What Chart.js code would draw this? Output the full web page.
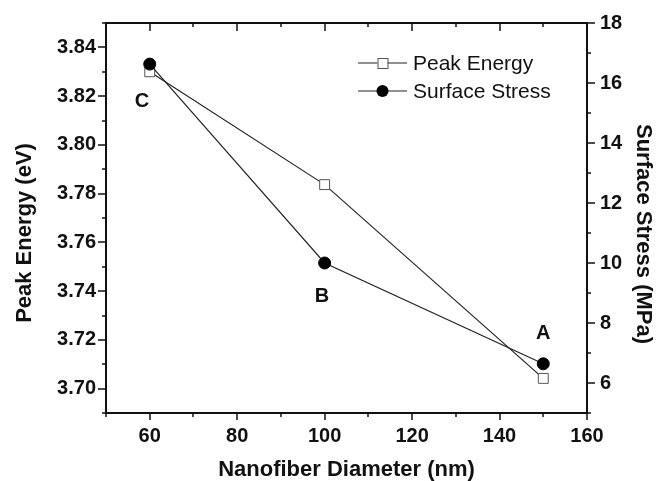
<!DOCTYPE html>
<html><head><meta charset="utf-8">
<script src="https://cdn.jsdelivr.net/npm/chart.js@4.4.0/dist/chart.umd.min.js"></script>
<style>html,body{margin:0;padding:0;background:#fff;}</style>
</head><body>
<canvas id="c" width="657" height="481" style="width:657px;height:481px;display:block"></canvas>
<script>
// ---- data ----
const diameters = [60, 100, 150];
const peakEnergy = [3.830, 3.7837, 3.7042];
const surfaceStress = [16.63, 10.0, 6.64];
const pointLabels = ['C', 'B', 'A'];
const pointLabelX = [58.2, 99.4, 150];
const pointLabelY = [3.818, 3.738, 3.7225];
const xMajorTicks = [60, 80, 100, 120, 140, 160];
const leftMajorTicks = [3.70, 3.72, 3.74, 3.76, 3.78, 3.80, 3.82, 3.84];
const rightMajorTicks = [6, 8, 10, 12, 14, 16, 18];
const seriesNames = ['Peak Energy', 'Surface Stress'];
const axisTitles = ['Nanofiber Diameter (nm)', 'Peak Energy (eV)', 'Surface Stress (MPa)'];

const FONT = "'Liberation Sans', Arial, sans-serif";
const isMajor = (arr, v) => arr.some(m => Math.abs(m - v) < 1e-6);

const decorPlugin = {
  id: 'decor',
  afterDraw(chart) {
    const ctx = chart.ctx, a = chart.chartArea;
    const sx = chart.scales.x, sy = chart.scales.y, sy1 = chart.scales.y1;
    ctx.save();
    ctx.strokeStyle = '#111';
    // top frame
    ctx.lineWidth = 2;
    ctx.beginPath(); ctx.moveTo(a.left - 1, a.top); ctx.lineTo(a.right + 1, a.top); ctx.stroke();
    ctx.lineWidth = 1.5;
    const seg = (x0, y0, x1, y1) => { ctx.beginPath(); ctx.moveTo(x0, y0); ctx.lineTo(x1, y1); ctx.stroke(); };
    sx.ticks.forEach(t => {
      const px = Math.round(sx.getPixelForValue(t.value));
      const m = isMajor(xMajorTicks, t.value);
      seg(px, a.bottom, px, a.bottom + (m ? 7 : 4));
      seg(px, a.top, px, a.top + (m ? 8 : 4));
    });
    sy.ticks.forEach(t => {
      const py = Math.round(sy.getPixelForValue(t.value));
      const m = isMajor(leftMajorTicks, t.value);
      seg(a.left - (m ? 8 : 4), py, a.left, py);
    });
    sy1.ticks.forEach(t => {
      const py = Math.round(sy1.getPixelForValue(t.value));
      const m = isMajor(rightMajorTicks, t.value);
      seg(a.right, py, a.right + (m ? 8 : 4), py);
    });
    // point labels
    ctx.fillStyle = '#111';
    ctx.font = 'bold 20px ' + FONT;
    ctx.textAlign = 'center'; ctx.textBaseline = 'middle';
    pointLabels.forEach((s, i) => {
      ctx.fillText(s, sx.getPixelForValue(pointLabelX[i]), sy.getPixelForValue(pointLabelY[i]));
    });
    // y axis titles
    ctx.font = 'bold 22px ' + FONT;
    ctx.save();
    ctx.translate(25, (a.top + a.bottom) / 2 + 15);
    ctx.rotate(-Math.PI / 2);
    ctx.fillText(axisTitles[1], 0, 0);
    ctx.restore();
    ctx.save();
    ctx.translate(643, (a.top + a.bottom) / 2 + 16);
    ctx.rotate(Math.PI / 2);
    ctx.fillText(axisTitles[2], 0, 0);
    ctx.restore();
    // legend
    const ds = chart.data.datasets;
    const lx0 = a.left + 252, lx1 = a.left + 301, lcx = (lx0 + lx1) / 2;
    const rows = [a.top + 40, a.top + 68];
    ctx.font = '21px ' + FONT;
    ctx.textAlign = 'left';
    ds.forEach((d, i) => {
      const y = rows[i];
      ctx.strokeStyle = '#222'; ctx.lineWidth = 1.2;
      seg(lx0, y, lx1, y);
      if (d.pointStyle === 'rect') {
        ctx.fillStyle = '#fff'; ctx.strokeStyle = '#555'; ctx.lineWidth = 1;
        ctx.fillRect(lcx - 5, y - 5, 10, 10);
        ctx.strokeRect(lcx - 5 + 0.5, y - 5 + 0.5, 10, 10);
      } else {
        ctx.fillStyle = '#000';
        ctx.beginPath(); ctx.arc(lcx, y, 6, 0, Math.PI * 2); ctx.fill();
      }
      ctx.fillStyle = '#111';
      ctx.fillText(d.label, lx1 + 6, y + 1);
    });
    ctx.restore();
  }
};

new Chart(document.getElementById('c'), {
  type: 'scatter',
  data: {
    datasets: [
      {
        label: seriesNames[0],
        data: diameters.map((x, i) => ({x, y: peakEnergy[i]})),
        yAxisID: 'y', showLine: true,
        borderColor: '#222', borderWidth: 1.2,
        pointStyle: 'rect', pointRadius: 7, pointHoverRadius: 7,
        pointBackgroundColor: '#fff', pointBorderColor: '#555', pointBorderWidth: 1,
        order: 2
      },
      {
        label: seriesNames[1],
        data: diameters.map((x, i) => ({x, y: surfaceStress[i]})),
        yAxisID: 'y1', showLine: true,
        borderColor: '#222', borderWidth: 1.2,
        pointStyle: 'circle', pointRadius: 6, pointHoverRadius: 6,
        pointBackgroundColor: '#000', pointBorderColor: '#000', pointBorderWidth: 1,
        order: 1
      }
    ]
  },
  options: {
    responsive: false, animation: false, devicePixelRatio: 1,
    layout: { padding: { top: 23, left: 0, right: 0, bottom: 0 } },
    plugins: { legend: { display: false }, tooltip: { enabled: false } },
    scales: {
      x: {
        type: 'linear', position: 'bottom', min: 50, max: 160,
        afterFit(s) { s.height = 68; },
        border: { display: true, color: '#111', width: 2 },
        grid: { drawOnChartArea: false, drawTicks: true, tickLength: 7, tickColor: 'rgba(0,0,0,0)' },
        ticks: {
          stepSize: 10, autoSkip: false, maxRotation: 0, padding: 4,
          color: '#111', font: { family: FONT, weight: 'bold', size: 20 },
          callback: v => isMajor(xMajorTicks, v) ? String(Math.round(v)) : ''
        },
        title: { display: true, text: axisTitles[0], color: '#111', padding: 0,
          font: { family: FONT, weight: 'bold', size: 22, lineHeight: 1 } }
      },
      y: {
        type: 'linear', position: 'left', min: 3.69, max: 3.85,
        afterFit(s) { s.width = 106; },
        border: { display: true, color: '#111', width: 2 },
        grid: { drawOnChartArea: false, drawTicks: true, tickLength: 8, tickColor: 'rgba(0,0,0,0)' },
        ticks: {
          stepSize: 0.01, autoSkip: false, padding: 2,
          color: '#111', font: { family: FONT, weight: 'bold', size: 20 },
          callback: v => isMajor(leftMajorTicks, v) ? v.toFixed(2) : ''
        }
      },
      y1: {
        type: 'linear', position: 'right', min: 5, max: 18,
        afterFit(s) { s.width = 70; },
        border: { display: true, color: '#111', width: 2 },
        grid: { drawOnChartArea: false, drawTicks: true, tickLength: 8, tickColor: 'rgba(0,0,0,0)' },
        ticks: {
          stepSize: 1, autoSkip: false, padding: 5,
          color: '#111', font: { family: FONT, weight: 'bold', size: 20 },
          callback: v => isMajor(rightMajorTicks, v) ? String(Math.round(v)) : ''
        }
      }
    }
  },
  plugins: [decorPlugin]
});
</script>
</body></html>
